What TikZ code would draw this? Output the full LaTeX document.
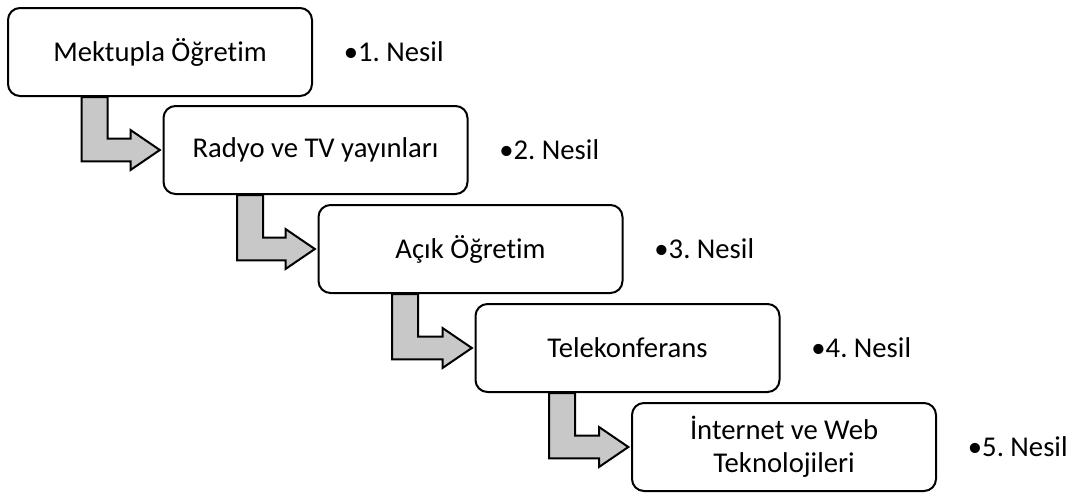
\documentclass[tikz,border=0pt]{standalone}
\usepackage{fontspec}
\setmainfont[Ligatures=NoCommon]{Carlito}
\frenchspacing
\usetikzlibrary{positioning, calc}
\definecolor{arrowgray}{HTML}{C8C8C8}

\tikzset{
  stage/.style={draw, line width=1.5pt, rounded corners=9pt, fill=white,
    minimum width=228pt, minimum height=66pt, align=center, inner sep=2pt,
    font=\fontsize{21.5}{25}\selectfont},
  nesil/.style={inner sep=0pt, font=\fontsize{21.5}{25}\selectfont},
  flow/.style={draw, fill=arrowgray, line width=1.5pt, line join=miter}
}

% bent arrow from under one box to the left side of the next
\newcommand{\bentarrow}[2]{%
  \draw[flow] let \p1=($(#1.south west)+(56pt,0)$), \p2=($(#2.west)+(-2pt,0)$) in
    (\x1,\y1) -- (\x1,\y2-8.5pt) -- (\x2-22pt,\y2-8.5pt) -- (\x2-22pt,\y2-15pt)
    -- (\x2,\y2) -- (\x2-22pt,\y2+15pt) -- (\x2-22pt,\y2+8.5pt)
    -- (\x1+19.5pt,\y2+8.5pt) -- (\x1+19.5pt,\y1) -- cycle;}

\begin{document}
\begin{tikzpicture}[x=0.75pt, y=-0.75pt]
  \useasboundingbox (0,0) rectangle (1082,493);

  \node[stage] (b1) at (160,52) {Mektupla Öğretim};
  \node[stage] (b2) at (315.5,150) {Radyo ve TV yayınları};
  \node[stage] (b3) at (470.5,249) {Açık Öğretim};
  \node[stage] (b4) at (627.5,348) {Telekonferans};
  \node[stage] (b5) at (784,447) {İnternet ve Web\\Teknolojileri};

  \bentarrow{b1}{b2}
  \bentarrow{b2}{b3}
  \bentarrow{b3}{b4}
  \bentarrow{b4}{b5}

  \node[nesil, right=23pt of b1] (n1) {•1. Nesil};
  \node[nesil, right=23pt of b2] (n2) {•2. Nesil};
  \node[nesil, right=23pt of b3] (n3) {•3. Nesil};
  \node[nesil, right=23pt of b4] (n4) {•4. Nesil};
  \node[nesil, right=23pt of b5] (n5) {•5. Nesil};
\end{tikzpicture}
\end{document}
